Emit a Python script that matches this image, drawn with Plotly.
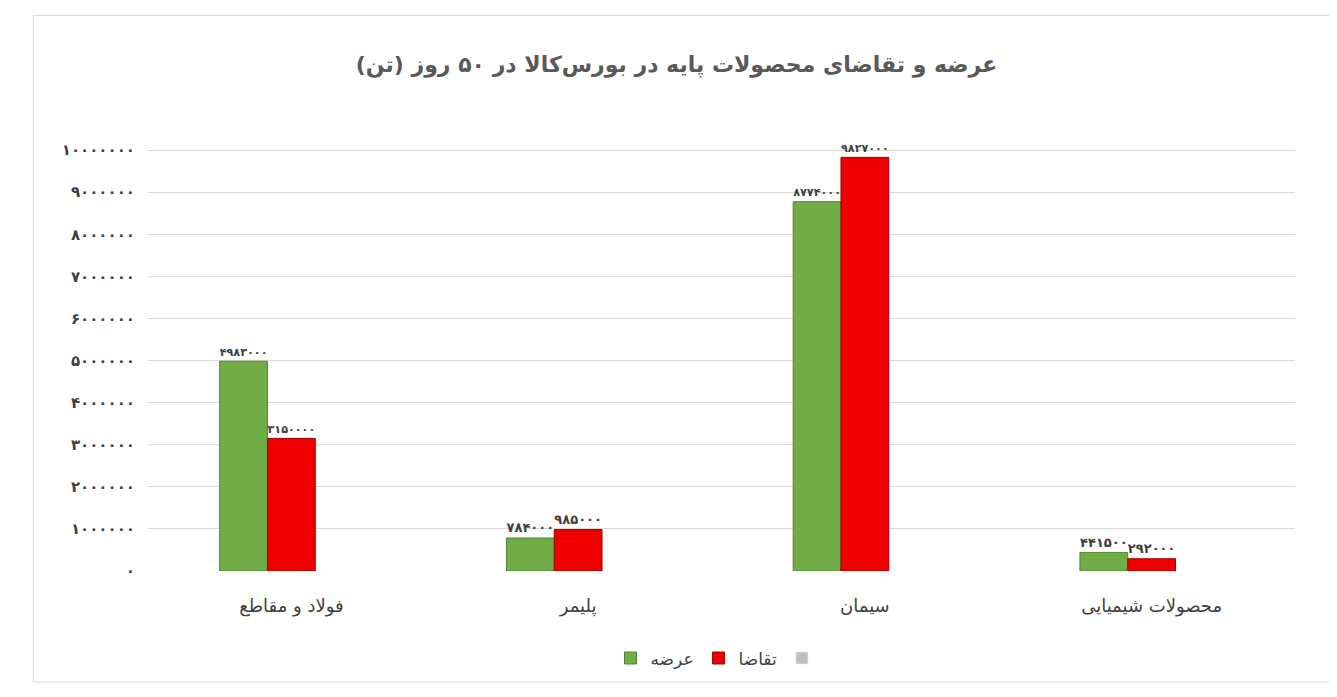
import plotly.graph_objects as go

categories = ["فولاد و مقاطع", "پلیمر", "سیمان", "محصولات شیمیایی"]
supply = [4983000, 784000, 8774000, 441500]
demand = [3150000, 985000, 9827000, 292000]
tick_vals = [0, 1000000, 2000000, 3000000, 4000000, 5000000, 6000000, 7000000, 8000000, 9000000, 10000000]

FA = str.maketrans("0123456789", "۰۱۲۳۴۵۶۷۸۹")


def fa(n):
    return str(n).translate(FA)


FONT = "DejaVu Sans"

fig = go.Figure()
fig.add_trace(go.Bar(
    x=categories, y=supply, name="عرضه", marker_color="#70AD47",
    marker_line=dict(color="#548235", width=1),
    text=["<b>" + fa(v) + "</b>" for v in supply], textposition="outside",
    textfont=dict(size=18, color="#404040", family=FONT),
))
fig.add_trace(go.Bar(
    x=categories, y=demand, name="تقاضا", marker_color="#EE0000",
    marker_line=dict(color="#A00000", width=1),
    text=["<b>" + fa(v) + "</b>" for v in demand], textposition="outside",
    textfont=dict(size=18, color="#404040", family=FONT),
))
fig.add_trace(go.Bar(x=categories, y=[None] * 4, name=" ", marker_color="#BFBFBF",
                     showlegend=True))

fig.update_layout(
    width=1337, height=697,
    barmode="group", bargap=0.5, bargroupgap=0,
    title=dict(text="<b>عرضه و تقاضای محصولات پایه در بورس‌کالا در ۵۰ روز (تن)</b>",
               x=0.5, y=0.93, font=dict(size=22, color="#595959", family=FONT)),
    font=dict(family=FONT, color="#595959"),
    plot_bgcolor="white", paper_bgcolor="white",
    margin=dict(l=140, r=50, t=100, b=134),
    xaxis=dict(tickfont=dict(size=18, color="#404040"), ticklabelstandoff=22, showline=False),
    yaxis=dict(range=[0, 11000000], tickvals=tick_vals,
               ticktext=["<b>" + fa(v) + "</b>" for v in tick_vals],
               tickfont=dict(size=15, color="#404040"), ticklabelstandoff=12,
               gridcolor="#D9D9D9", zeroline=False),
    legend=dict(orientation="h", x=0.5, xanchor="center", y=-0.15,
                font=dict(size=17, color="#404040"), traceorder="normal"),
    shapes=[dict(type="rect", xref="paper", yref="paper", x0=-0.1, x1=1.03,
                 y0=-0.24, y1=1.2, line=dict(color="#D9D9D9", width=1))],
)

fig.write_html("out.html")
